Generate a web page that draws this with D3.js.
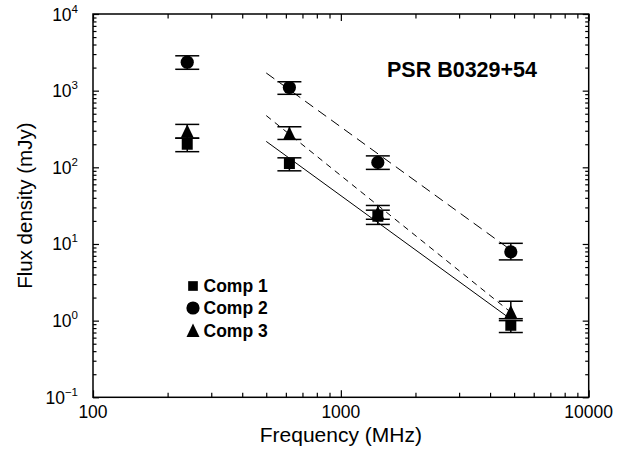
<!DOCTYPE html>
<html><head><meta charset="utf-8">
<script src="https://cdn.jsdelivr.net/npm/d3@7"></script>
<style>body{margin:0;background:#fff} text{font-family:"Liberation Sans",Arial,Helvetica,sans-serif;fill:#000}</style>
</head><body><svg id="c" width="633" height="450"></svg>
<script>
const freqs = [240, 620, 1410, 4850];
const comp1 = [200, 112, 23, 0.87];
const comp1Lo = [160, 90, 18, 0.70];
const comp1Hi = [240, 133, 27.6, 1.0];
const comp2 = [2350, 1100, 116, 7.9];
const comp2Lo = [1900, 896, 94, 6.2];
const comp2Hi = [2850, 1306, 141, 10.2];
const comp3 = [295, 277, 25.5, 1.3];
const comp3Lo = [240, 231, 21, 1.06];
const comp3Hi = [363, 338, 31.8, 1.79];
const fitFreqRange = [500, 4750];
const fitS1GHz = [42.7, 336, 78];
const fitIndex = [-2.35, -2.34, -2.6];
const xTicks = [100, 1000, 10000];
const yExps = [-1, 0, 1, 2, 3, 4];
const seriesNames = ["Comp 1", "Comp 2", "Comp 3"];
const titleText = "PSR B0329+54";
const xTitle = "Frequency (MHz)";
const yTitle = "Flux density (mJy)";

const L = 93, R = 588.7, T = 14, B = 397.3;
const svg = d3.select("#c");
const x = d3.scaleLog().domain([100, 10000]).range([L, R]);
const y = d3.scaleLog().domain([0.1, 10000]).range([B, T]);

const xMinor = [];
for (let d = 100; d < 10000; d *= 10) for (let k = 2; k <= 9; k++) xMinor.push(d * k);
const yMinor = [];
for (let e = -1; e < 4; e++) for (let k = 2; k <= 9; k++) yMinor.push(Math.pow(10, e) * k);

function axisGroup(axis, tx, ty) {
  const g = svg.append("g").attr("transform", `translate(${tx},${ty})`).call(axis);
  g.select(".domain").remove();
  g.selectAll("text").remove();
  g.selectAll("line").attr("stroke", "#000").attr("stroke-width", 1.2);
  return g;
}
axisGroup(d3.axisBottom(x).tickValues(xTicks).tickSize(-7), 0, B);
axisGroup(d3.axisBottom(x).tickValues(xMinor).tickSize(-4.5), 0, B);
axisGroup(d3.axisTop(x).tickValues(xTicks).tickSize(-7), 0, T);
axisGroup(d3.axisTop(x).tickValues(xMinor).tickSize(-4.5), 0, T);
const yMajor = yExps.map(e => Math.pow(10, e));
axisGroup(d3.axisLeft(y).tickValues(yMajor).tickSize(-6), L, 0);
axisGroup(d3.axisLeft(y).tickValues(yMinor).tickSize(-3.5), L, 0);
axisGroup(d3.axisRight(y).tickValues(yMajor).tickSize(-6), R, 0);
axisGroup(d3.axisRight(y).tickValues(yMinor).tickSize(-3.5), R, 0);

svg.append("rect").attr("x", L).attr("y", T).attr("width", R - L).attr("height", B - T)
  .attr("fill", "none").attr("stroke", "#000").attr("stroke-width", 1.5);

svg.selectAll(".xl").data(xTicks).enter().append("text")
  .attr("x", d => x(d)).attr("y", B + 21).attr("text-anchor", "middle")
  .attr("font-size", 17.5).text(d => d);

yExps.forEach(e => {
  const t = svg.append("text").attr("x", 78).attr("y", y(Math.pow(10, e)) + 6.5)
    .attr("text-anchor", "end").attr("font-size", 17.5);
  t.append("tspan").text("10");
  t.append("tspan").attr("dy", -8).attr("font-size", 11.5).text(e < 0 ? "\u2212" + (-e) : e);
});

svg.append("text").attr("x", (L + R) / 2).attr("y", 442).attr("text-anchor", "middle")
  .attr("font-size", 21).text(xTitle);
svg.append("text").attr("transform", `translate(31.5,${(T + B) / 2}) rotate(-90)`)
  .attr("text-anchor", "middle").attr("font-size", 20.5).text(yTitle);

svg.append("text").attr("x", 387).attr("y", 77).attr("font-size", 21.5)
  .attr("font-weight", "bold").text(titleText);

const dashes = [null, "10,6", "6,5"];
const lineGen = d3.line().x(d => x(d[0])).y(d => y(d[1]));
fitS1GHz.forEach((s, i) => {
  const pts = fitFreqRange.map(f => [f, s * Math.pow(f / 1000, fitIndex[i])]);
  svg.append("path").attr("d", lineGen(pts)).attr("fill", "none")
    .attr("stroke", "#000").attr("stroke-width", 1)
    .attr("stroke-dasharray", dashes[i]);
});

function symbolPath(kind, s) {
  if (kind === 0) { const h = 5.5 * s; return `M${-h},${-h}H${h}V${h}H${-h}Z`; }
  if (kind === 1) { const r = 6.6 * s; return `M${-r},0A${r},${r} 0 1,0 ${r},0A${r},${r} 0 1,0 ${-r},0Z`; }
  return `M0,${-7 * s}L${6.5 * s},${6.5 * s}L${-6.5 * s},${6.5 * s}Z`;
}

const series = [
  {v: comp1, lo: comp1Lo, hi: comp1Hi},
  {v: comp2, lo: comp2Lo, hi: comp2Hi},
  {v: comp3, lo: comp3Lo, hi: comp3Hi}
];
series.forEach((s, k) => {
  const g = svg.append("g");
  freqs.forEach((f, i) => {
    const cx = x(f);
    g.append("line").attr("x1", cx).attr("x2", cx).attr("y1", y(s.lo[i])).attr("y2", y(s.hi[i]))
      .attr("stroke", "#000").attr("stroke-width", 1.5);
    [s.lo[i], s.hi[i]].forEach(b => {
      g.append("line").attr("x1", cx - 12).attr("x2", cx + 12).attr("y1", y(b)).attr("y2", y(b))
        .attr("stroke", "#000").attr("stroke-width", 1.5);
    });
    g.append("path").attr("d", symbolPath(k, 1)).attr("transform", `translate(${cx},${y(s.v[i])})`)
      .attr("fill", "#000");
  });
});

const legY = [286, 308, 330.5];
seriesNames.forEach((n, k) => {
  svg.append("path").attr("d", symbolPath(k, k === 0 ? 0.88 : 1)).attr("transform", `translate(193,${legY[k]})`).attr("fill", "#000");
  svg.append("text").attr("x", 203.5).attr("y", legY[k] + 6).attr("font-size", 17.5)
    .attr("font-weight", "bold").text(n);
});
</script></body></html>
